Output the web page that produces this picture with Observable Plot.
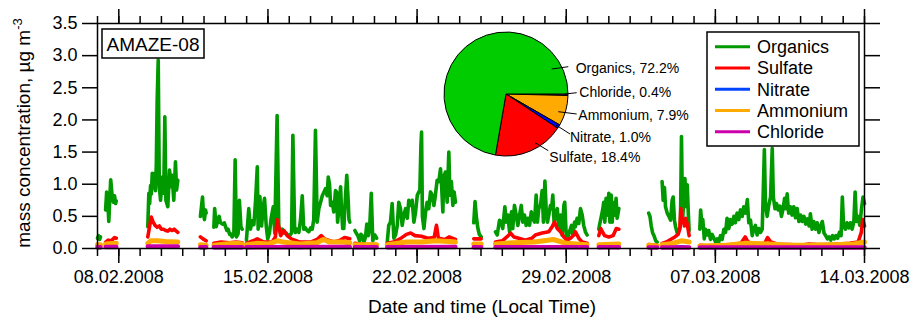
<!DOCTYPE html>
<html><head><meta charset="utf-8">
<script src="https://cdn.jsdelivr.net/npm/d3@7"></script>
<script src="https://cdn.jsdelivr.net/npm/@observablehq/plot@0.6"></script>
<style>body{margin:0;background:#fff;} svg{display:block;}</style>
</head><body><div id="chart"></div>
<script>
// Time is given as "day of February 2008" (day 30 = 1 March, day 43 = 14 March). null = gap.
const organics = [
 [7.00,0.16],[7.05,0.2],[7.10,0.14],[7.14,0.18], null,
 [7.38,0.6],[7.43,0.88],[7.48,0.75],[7.53,0.42],[7.58,0.8],[7.62,1.07],[7.66,0.92],[7.70,0.78],[7.75,0.72],[7.80,0.82],[7.85,0.7],[7.88,0.74], null,
 [9.36,0.34],[9.41,0.86],[9.45,0.7],[9.49,0.98],[9.53,0.85],[9.57,1.17],[9.62,0.95],[9.68,1.17],[9.72,0.9],[9.76,1.3],[9.8,2.3],[9.85,2.93],[9.9,0.96],[9.96,0.75],[10.04,1.11],[10.11,0.86],[10.16,2.05],[10.21,0.75],[10.3,0.65],[10.38,1.22],[10.46,0.96],[10.5,1.14],[10.58,0.75],[10.66,1.35],[10.71,0.91],[10.77,1.06], null,
 [11.83,0.5],[11.88,0.65],[11.93,0.8],[11.97,0.55],[12.02,0.45],[12.07,0.6],[12.10,0.55], null,
 [12.46,0.33],[12.50,0.62],[12.57,0.34],[12.65,0.44],[12.71,0.5],[12.77,0.4],[12.88,0.38],[12.95,0.4],[13.01,0.34],[13.07,0.28],[13.13,0.3],[13.2,0.22],[13.24,0.23],[13.32,0.18],[13.4,0.23],[13.46,1.38],[13.52,0.18],[13.6,0.23],[13.66,0.75],[13.73,0.34],[13.79,0.3], null,
 [13.99,0.13],[14.1,0.62],[14.18,0.3],[14.26,0.43],[14.34,0.37],[14.42,0.75],[14.5,1.27],[14.54,0.3],[14.62,0.81],[14.7,0.35],[14.78,0.65],[14.84,0.78],[14.92,0.35],[14.99,0.15],[15.07,0.24],[15.15,0.47],[15.25,0.65],[15.32,0.24],[15.43,2.07],[15.51,0.34],[15.59,0.24],[15.67,0.3],[15.74,0.24],[15.86,0.24],[15.98,0.19],[16.11,0.24],[16.17,1.76],[16.25,0.35],[16.29,0.25],[16.37,0.3],[16.45,0.25],[16.53,0.45],[16.61,0.82],[16.68,0.3],[16.76,0.32],[16.84,0.28],[16.92,0.26],[17.0,0.32],[17.08,0.3],[17.15,0.45],[17.23,1.84],[17.31,0.41],[17.39,0.62],[17.47,0.72],[17.55,0.82],[17.62,0.87],[17.7,0.93],[17.78,0.82],[17.83,1.11],[17.89,1.0],[17.94,0.67],[18.02,0.72],[18.09,0.57],[18.17,0.9],[18.22,0.88],[18.27,0.41],[18.33,0.62],[18.41,0.96],[18.45,0.62],[18.51,0.31],[18.56,0.31],[18.64,0.82],[18.7,1.14],[18.77,0.72],[18.8,0.46],[18.84,0.41], null,
 [19.08,0.28],[19.14,0.24],[19.22,0.2],[19.3,0.12],[19.36,0.22],[19.42,0.2],[19.5,0.1],[19.58,0.18],[19.64,0.38],[19.71,0.2],[19.77,0.3],[19.85,0.86],[19.92,0.12],[20.02,0.21],[20.10,0.16], null,
 [20.6,0.1],[20.67,0.36],[20.75,0.41],[20.83,0.7],[20.91,0.16],[20.99,0.21],[21.07,0.36],[21.14,0.72],[21.22,0.62],[21.3,0.36],[21.38,0.52],[21.46,0.62],[21.54,0.47],[21.61,0.75],[21.69,0.67],[21.77,0.75],[21.85,0.41],[21.93,0.57],[22.01,0.83],[22.08,0.88],[22.13,0.9],[22.18,1.6],[22.21,1.81],[22.25,0.5],[22.32,0.31],[22.4,0.57],[22.47,0.72],[22.55,0.62],[22.63,0.88],[22.71,0.83],[22.79,0.67],[22.86,0.83],[22.94,1.06],[23.02,1.04],[23.1,1.24],[23.15,0.98],[23.21,0.57],[23.25,1.11],[23.33,1.19],[23.41,0.72],[23.49,1.5],[23.54,0.83],[23.61,1.04],[23.68,0.67],[23.74,0.88],[23.80,0.72], null,
 [24.66,0.4],[24.72,0.73],[24.78,0.5],[24.85,0.32],[24.92,0.22],[25.01,0.18], null,
 [25.68,0.26],[25.76,0.21],[25.87,0.44],[25.96,0.41],[26.02,0.31],[26.12,0.65],[26.18,0.41],[26.26,0.52],[26.34,0.26],[26.43,0.57],[26.49,0.31],[26.57,0.67],[26.65,0.52],[26.73,0.36],[26.81,0.52],[26.89,0.67],[26.96,0.41],[27.04,0.52],[27.12,0.36],[27.2,0.47],[27.28,0.36],[27.36,0.57],[27.43,0.47],[27.51,0.41],[27.59,0.83],[27.65,0.41],[27.71,0.62],[27.79,0.67],[27.87,0.9],[27.93,0.41],[28.0,1.05],[28.06,0.6],[28.12,0.41],[28.18,0.52],[28.26,0.67],[28.31,0.62],[28.37,0.83],[28.43,0.41],[28.5,0.52],[28.58,0.62],[28.65,0.31],[28.73,0.52],[28.81,0.21],[28.89,0.67],[28.93,0.72],[29.0,0.21],[29.06,0.16],[29.15,0.26],[29.25,0.36],[29.31,0.21],[29.39,0.41],[29.43,0.34],[29.51,0.47],[29.59,0.39],[29.67,0.62],[29.75,0.52],[29.82,0.36],[29.9,0.26],[29.98,0.21], null,
 [30.53,0.3],[30.56,0.36],[30.66,0.52],[30.72,0.62],[30.76,0.72],[30.81,0.41],[30.87,0.78],[30.94,0.52],[31.0,0.86],[31.05,0.41],[31.11,0.83],[31.16,0.41],[31.2,0.72],[31.28,0.52],[31.34,0.78],[31.39,0.47],[31.47,0.62], null,
 [32.87,0.55],[32.93,0.5],[32.99,0.35],[33.05,0.25],[33.12,0.2],[33.2,0.12],[33.27,0.1], null,
 [33.5,1.04],[33.55,0.75],[33.61,0.95],[33.66,0.65],[33.74,0.55],[33.82,0.5],[33.9,0.44],[33.97,0.75],[34.02,0.8],[34.08,0.44],[34.13,0.34],[34.21,0.24],[34.28,0.28],[34.36,0.34],[34.41,1.74],[34.46,0.44],[34.52,0.75],[34.57,1.09],[34.63,0.65],[34.68,0.99],[34.73,0.55],[34.77,0.28], null,
 [35.27,0.3],[35.31,0.6],[35.36,0.4],[35.41,0.45],[35.48,0.15],[35.54,0.3],[35.62,0.21],[35.69,0.28],[35.77,0.14],[35.85,0.22],[35.93,0.16],[36.01,0.1],[36.09,0.15],[36.16,0.1],[36.24,0.2],[36.32,0.14],[36.4,0.3],[36.48,0.25],[36.55,0.47],[36.63,0.31],[36.71,0.45],[36.79,0.38],[36.87,0.5],[36.94,0.4],[37.02,0.55],[37.1,0.45],[37.18,0.6],[37.26,0.5],[37.33,0.65],[37.41,0.55],[37.5,0.76],[37.57,0.4],[37.65,0.44],[37.73,0.2],[37.8,0.3],[37.88,0.36],[37.96,0.21],[38.04,0.31],[38.12,0.25],[38.2,0.3],[38.25,0.9],[38.3,1.54],[38.35,0.7],[38.43,0.5],[38.51,0.68],[38.59,0.8],[38.67,1.56],[38.72,0.8],[38.8,0.62],[38.87,0.7],[38.95,0.6],[39.03,0.66],[39.1,0.5],[39.17,0.6],[39.25,0.78],[39.32,0.62],[39.37,0.85],[39.44,0.55],[39.52,0.65],[39.6,0.52],[39.68,0.65],[39.76,0.48],[39.84,0.62],[39.92,0.42],[40.0,0.52],[40.08,0.42],[40.16,0.5],[40.24,0.38],[40.32,0.46],[40.4,0.35],[40.46,0.54],[40.54,0.3],[40.62,0.42],[40.7,0.3],[40.78,0.4],[40.86,0.25],[40.94,0.35],[41.02,0.42],[41.1,0.24],[41.18,0.2],[41.26,0.15],[41.34,0.18],[41.42,0.13],[41.5,0.2],[41.58,0.15],[41.66,0.2],[41.74,0.16],[41.82,0.25],[41.9,0.2],[41.96,0.8],[42.02,0.35],[42.1,0.3],[42.18,0.4],[42.26,0.32],[42.34,0.4],[42.42,0.3],[42.5,0.42],[42.56,0.88],[42.62,0.42],[42.7,0.5],[42.78,0.36],[42.86,0.62],[42.93,0.8],[43.0,0.7]
];
const sulfate = [
 [7.0,0.04],[7.14,0.05], null,
 [7.38,0.1],[7.5,0.13],[7.65,0.12],[7.8,0.17],[7.88,0.16], null,
 [9.36,0.18],[9.45,0.35],[9.52,0.49],[9.6,0.42],[9.7,0.36],[9.8,0.33],[9.9,0.35],[10.0,0.3],[10.1,0.3],[10.2,0.28],[10.3,0.27],[10.4,0.3],[10.5,0.28],[10.6,0.3],[10.7,0.27],[10.77,0.25], null,
 [11.83,0.18],[11.95,0.15],[12.1,0.12], null,
 [12.46,0.08],[12.8,0.1],[13.2,0.09],[13.5,0.1],[13.79,0.09], null,
 [13.99,0.08],[14.3,0.12],[14.5,0.15],[14.8,0.1],[15.2,0.1],[15.35,0.18],[15.43,0.45],[15.5,0.35],[15.6,0.2],[15.75,0.28],[15.9,0.2],[16.1,0.15],[16.5,0.1],[17.0,0.1],[17.3,0.14],[17.5,0.2],[17.65,0.15],[17.9,0.12],[18.1,0.1],[18.4,0.13],[18.6,0.17],[18.84,0.15], null,
 [19.08,0.08],[19.5,0.06],[20.1,0.06], null,
 [20.6,0.08],[20.9,0.1],[21.2,0.15],[21.5,0.22],[21.7,0.24],[21.9,0.2],[22.2,0.19],[22.5,0.16],[22.8,0.17],[22.91,0.36],[23.0,0.16],[23.3,0.14],[23.5,0.18],[23.8,0.14], null,
 [24.66,0.15],[25.01,0.15], null,
 [25.68,0.1],[26.0,0.12],[26.31,0.21],[26.39,0.24],[26.54,0.18],[26.77,0.16],[27.08,0.13],[27.39,0.16],[27.55,0.21],[27.87,0.24],[28.18,0.26],[28.34,0.34],[28.45,0.41],[28.58,0.31],[28.73,0.26],[28.89,0.18],[29.04,0.13],[29.2,0.16],[29.36,0.21],[29.43,0.26],[29.59,0.16],[29.75,0.1],[29.98,0.08], null,
 [30.53,0.2],[30.62,0.31],[30.7,0.26],[30.8,0.2],[31.0,0.18],[31.2,0.2],[31.35,0.31],[31.47,0.3], null,
 [32.87,0.06],[33.27,0.05], null,
 [33.5,0.08],[33.7,0.1],[33.9,0.14],[34.1,0.18],[34.25,0.22],[34.33,0.3],[34.38,0.62],[34.43,0.4],[34.5,0.45],[34.55,0.35],[34.6,0.47],[34.68,0.38],[34.77,0.2], null,
 [35.27,0.05],[35.8,0.04],[36.5,0.05],[37.2,0.08],[37.4,0.18],[37.5,0.12],[37.7,0.06],[38.3,0.07],[38.45,0.17],[38.6,0.1],[39.0,0.06],[39.5,0.06],[40.0,0.05],[40.4,0.07],[40.8,0.06],[41.3,0.06],[41.8,0.07],[42.3,0.08],[42.7,0.1],[42.85,0.25],[42.92,0.45],[43.0,0.35]
];
const nitrate = [
 [7.0,0.01],[7.14,0.01], null,
 [7.38,0.02],[7.88,0.02], null,
 [9.36,0.02],[10.0,0.03],[10.77,0.02], null,
 [11.83,0.01],[12.1,0.01], null,
 [12.46,0.01],[13.79,0.01], null,
 [13.99,0.01],[15.5,0.03],[16.5,0.01],[17.6,0.03],[18.84,0.02], null,
 [19.08,0.01],[20.1,0.01], null,
 [20.6,0.01],[22.0,0.02],[23.8,0.02], null,
 [24.66,0.01],[25.01,0.01], null,
 [25.68,0.01],[28.4,0.03],[29.98,0.01], null,
 [30.53,0.01],[31.0,0.02],[31.47,0.01], null,
 [32.87,0.01],[33.27,0.01], null,
 [33.5,0.01],[34.4,0.03],[34.77,0.02], null,
 [35.27,0.01],[40.0,0.01],[43.0,0.02]
];
const ammonium = [
 [7.0,0.06],[7.14,0.06], null,
 [7.38,0.07],[7.88,0.08], null,
 [9.36,0.08],[9.5,0.12],[9.8,0.12],[10.2,0.11],[10.77,0.1], null,
 [11.83,0.06],[12.1,0.05], null,
 [12.46,0.05],[13.0,0.07],[13.5,0.08],[13.79,0.07], null,
 [13.99,0.06],[14.5,0.08],[15.0,0.07],[15.45,0.12],[15.7,0.1],[16.5,0.07],[17.3,0.09],[17.6,0.14],[17.9,0.1],[18.5,0.1],[18.84,0.09], null,
 [19.08,0.06],[20.1,0.06], null,
 [20.6,0.06],[21.5,0.1],[22.2,0.1],[22.9,0.12],[23.8,0.1], null,
 [24.66,0.07],[25.01,0.07], null,
 [25.68,0.07],[26.5,0.09],[27.5,0.1],[28.4,0.14],[29.0,0.08],[29.98,0.06], null,
 [30.53,0.06],[31.47,0.07], null,
 [32.87,0.05],[33.27,0.04], null,
 [33.5,0.06],[34.0,0.08],[34.4,0.12],[34.77,0.1], null,
 [35.27,0.04],[36.5,0.05],[37.45,0.08],[38.5,0.07],[39.5,0.05],[40.5,0.05],[41.5,0.06],[42.5,0.07],[43.0,0.1]
];
const chloride = [
 [7.0,0.02],[7.14,0.02], null,
 [7.38,0.025],[7.88,0.025], null,
 [9.36,0.03],[10.77,0.03], null,
 [11.83,0.02],[12.1,0.02], null,
 [12.46,0.02],[13.79,0.02], null,
 [13.99,0.02],[18.84,0.025], null,
 [19.08,0.02],[20.1,0.02], null,
 [20.6,0.02],[23.8,0.025], null,
 [24.66,0.02],[25.01,0.02], null,
 [25.68,0.02],[29.98,0.02], null,
 [30.53,0.02],[31.47,0.02], null,
 [32.87,0.015],[33.27,0.015], null,
 [33.5,0.015],[34.77,0.015], null,
 [35.27,0.015],[43.0,0.015]
];

const seriesNames = ["Organics", "Sulfate", "Nitrate", "Ammonium", "Chloride"];
const seriesColors = ["#009900", "#ff0000", "#0044ff", "#ffaa00", "#cc00aa"];
const seriesWidths = [3.6, 3.6, 3, 5, 4.5];
const seriesData = [organics, sulfate, nitrate, ammonium, chloride];

const pieNames = ["Chloride", "Ammonium", "Nitrate", "Sulfate", "Organics"];
const piePercents = [0.4, 7.9, 1.0, 18.4, 72.2];
const pieColors = ["#cc0099", "#ffaa00", "#0000ff", "#ff0000", "#00cc00"];

const yTicks = [0, 0.5, 1.0, 1.5, 2.0, 2.5, 3.0, 3.5];
const majorDays = [8, 15, 22, 29, 36, 43];
const domainDays = [7, 43];

const campaign = "AMAZE-08";
const xTitle = "Date and time (Local Time)";

const dayToDate = d => new Date(Date.UTC(2008, 1, 1) + (d - 1) * 864e5);
const toRows = arr => arr.map(p => p ? {t: dayToDate(p[0]), v: p[1]} : {t: null, v: NaN});

const minorDates = d3.range(domainDays[0], domainDays[1] + 1).map(dayToDate);
const majorDates = majorDays.map(dayToDate);
const blank = () => "";
const FONT = "'Liberation Sans', Arial, Helvetica, sans-serif";

const lineMarks = seriesData.map((arr, i) =>
  Plot.line(toRows(arr), {x: "t", y: "v", stroke: seriesColors[i], strokeWidth: seriesWidths[i], strokeLinejoin: "round"}));

const chart = Plot.plot({
  width: 910, height: 319,
  marginLeft: 97, marginRight: 46, marginTop: 23, marginBottom: 71,
  style: {fontFamily: FONT, fontSize: "18px", color: "black", background: "white"},
  x: {type: "utc", domain: domainDays.map(dayToDate)},
  y: {domain: [0, 3.5]},
  marks: [
    ...lineMarks,
    Plot.axisX({anchor: "bottom", ticks: minorDates, tickSize: 8, tickFormat: blank, label: null, strokeWidth: 1.5}),
    Plot.axisX({anchor: "bottom", ticks: majorDates, tickSize: 15, tickPadding: 7, tickFormat: d3.utcFormat("%d.%m.%Y"), label: null, strokeWidth: 1.5, fontSize: 18}),
    Plot.axisX({anchor: "top", ticks: minorDates, tickSize: 8, tickFormat: blank, label: null, strokeWidth: 1.5}),
    Plot.axisX({anchor: "top", ticks: majorDates, tickSize: 15, tickFormat: blank, label: null, strokeWidth: 1.5}),
    Plot.axisY({anchor: "left", ticks: yTicks, tickSize: 15, tickPadding: 5, tickFormat: d3.format(".1f"), label: null, strokeWidth: 1.5, fontSize: 18}),
    Plot.axisY({anchor: "right", ticks: yTicks, tickSize: 15, tickFormat: blank, label: null, strokeWidth: 1.5}),
    Plot.frame({stroke: "black", strokeWidth: 1.5})
  ]
});
document.getElementById("chart").appendChild(chart);

const svg = d3.select(chart);
const ns = svg.append("g").attr("font-family", FONT).attr("fill", "black").attr("text-anchor", "start");

// axis titles
ns.append("text").attr("x", 482).attr("y", 313).attr("text-anchor", "middle").attr("font-size", 19).text(xTitle);
const yl = ns.append("text").attr("transform", "translate(30,133) rotate(-90)").attr("text-anchor", "middle").attr("font-size", 19);
yl.append("tspan").text("mass concentration, µg m");
yl.append("tspan").attr("font-size", 13).attr("dy", -8).text("-3");

// campaign box
ns.append("rect").attr("x", 102).attr("y", 29).attr("width", 102).attr("height", 29).attr("fill", "white").attr("stroke", "black").attr("stroke-width", 1.5);
ns.append("text").attr("x", 153).attr("y", 44).attr("dy", "0.35em").attr("text-anchor", "middle").attr("font-size", 19).text(campaign);

// legend
const lg = ns.append("g");
lg.append("rect").attr("x", 707).attr("y", 32).attr("width", 152).attr("height", 114).attr("fill", "white").attr("stroke", "black").attr("stroke-width", 1.5);
seriesNames.forEach((n, i) => {
  const yy = 46.7 + i * 21.25;
  lg.append("line").attr("x1", 715).attr("x2", 750).attr("y1", yy).attr("y2", yy).attr("stroke", seriesColors[i]).attr("stroke-width", 3);
  lg.append("text").attr("x", 757).attr("y", yy).attr("dy", "0.35em").attr("text-anchor", "start").attr("font-size", 18).text(n);
});

// pie
const pieData = pieNames.map((n, i) => ({name: n, p: piePercents[i], color: pieColors[i]}));
const arcs = d3.pie().sort(null).value(d => d.p).startAngle(Math.PI / 2).endAngle(Math.PI / 2 + 2 * Math.PI)(pieData);
const arcGen = d3.arc().innerRadius(0).outerRadius(62);
const pg = ns.append("g").attr("transform", "translate(506,94)");
pg.selectAll("path").data(arcs).join("path").attr("d", arcGen).attr("fill", d => d.data.color).attr("stroke", "black").attr("stroke-width", 1);

const pieLabelLayout = {
  Organics: {tx: 575.7, ty: 68.3, l: [551.7, 69, 568.3, 66.7]},
  Chloride: {tx: 579.3, ty: 91.7, l: [565, 94, 576.7, 92.7]},
  Ammonium: {tx: 578.3, ty: 115, l: [558.3, 111.7, 576.7, 114]},
  Nitrate: {tx: 570, ty: 136.7, l: [556, 125, 570, 134]},
  Sulfate: {tx: 549.3, ty: 156.7, l: [535, 142.7, 548.3, 150.7]}
};
pieData.forEach(d => {
  const L = pieLabelLayout[d.name];
  ns.append("line").attr("x1", L.l[0]).attr("y1", L.l[1]).attr("x2", L.l[2]).attr("y2", L.l[3]).attr("stroke", "black").attr("stroke-width", 1);
  ns.append("text").attr("x", L.tx).attr("y", L.ty).attr("dy", "0.35em").attr("text-anchor", "start").attr("font-size", 14).text(`${d.name}, ${d.p.toFixed(1)}%`);
});
</script>
</body></html>
